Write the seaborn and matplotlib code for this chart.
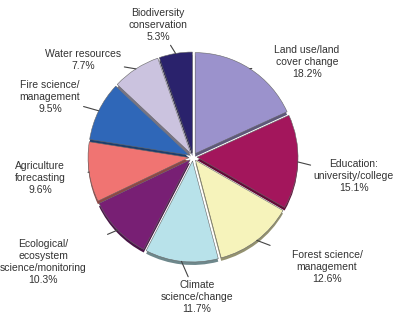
import numpy as np
import seaborn as sns
import matplotlib.pyplot as plt
from matplotlib.colors import to_rgb

# data
topics = ['Land use/land\ncover change', 'Education:\nuniversity/college',
          'Forest science/\nmanagement', 'Climate\nscience/change',
          'Ecological/\necosystem\nscience/monitoring', 'Agriculture\nforecasting',
          'Fire science/\nmanagement', 'Water resources', 'Biodiversity\nconservation']
shares = [18.2, 15.1, 12.6, 11.7, 10.3, 9.6, 9.5, 7.7, 5.3]
colors = ['#9b92cc', '#a3165c', '#f6f3bb', '#b8e2ea', '#781f74',
          '#f07472', '#2f67b8', '#cbc3df', '#2a226c']

# label centres in pixel space (x, y from top)
label_pos = [(307, 62), (354, 176), (327, 267), (197, 297), (43, 262),
             (40, 178), (50, 97), (83, 60), (158, 25)]

sns.set_style('white')
plt.rcParams['font.family'] = ['Liberation Sans', 'DejaVu Sans']

W, H = 397, 315
fig = plt.figure(figsize=(W / 100, H / 100), dpi=100)
ax = fig.add_axes([0, 0, 1, 1])

cx, cy, r = 193, H - 157, 101
expl = [4] * len(shares)

# darker copy underneath for the slight 3d rim
dark = [tuple(c * 0.6 for c in to_rgb(col)) for col in colors]
ax.pie(shares, colors=dark, startangle=90, counterclock=False,
       center=(cx, cy - 3), radius=r, explode=expl,
       wedgeprops=dict(linewidth=0))
wedges, _ = ax.pie(shares, colors=colors, startangle=90, counterclock=False,
                   center=(cx, cy), radius=r, explode=expl,
                   wedgeprops=dict(edgecolor='#666666', linewidth=0.4))
ax.set_xlim(0, W)
ax.set_ylim(0, H)
ax.set_aspect('equal')
ax.axis('off')

for w, name, val, (lx, ly) in zip(wedges, topics, shares, label_pos):
    ang = np.deg2rad((w.theta1 + w.theta2) / 2)
    ex, ey = w.center
    px = ex + w.r * np.cos(ang)
    py = ey + w.r * np.sin(ang)
    ax.annotate(f'{name}\n{val}%', xy=(px, py), xytext=(lx, H - ly),
                ha='center', va='center', fontsize=7.5, color='#333333',
                linespacing=1.25,
                arrowprops=dict(arrowstyle='-', color='#444444', lw=0.8,
                                shrinkA=14, shrinkB=0))

fig.savefig('out.png', dpi=100)
